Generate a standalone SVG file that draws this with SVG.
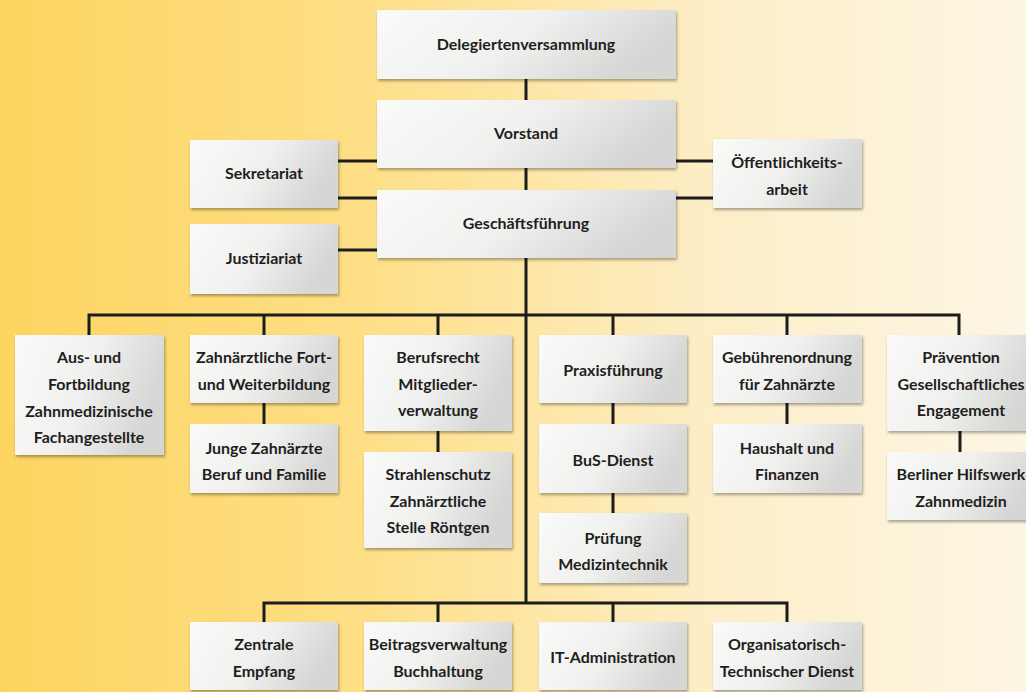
<svg xmlns="http://www.w3.org/2000/svg" width="1026" height="692" viewBox="0 0 1026 692">
<defs>
<linearGradient id="bg" x1="0" y1="0" x2="1" y2="0">
<stop offset="0" stop-color="#fdd460"/>
<stop offset="0.35" stop-color="#fedf86"/>
<stop offset="0.7" stop-color="#fdeec8"/>
<stop offset="1" stop-color="#fdf6e4"/>
</linearGradient>
<linearGradient id="box" x1="0" y1="0" x2="1" y2="0.3">
<stop offset="0" stop-color="#fafaf8"/>
<stop offset="0.55" stop-color="#f0f0ee"/>
<stop offset="1" stop-color="#d6d6d4"/>
</linearGradient>
<filter id="sh" x="-10%" y="-10%" width="125%" height="130%">
<feGaussianBlur in="SourceAlpha" stdDeviation="1.6"/>
<feOffset dx="1" dy="2" result="b"/>
<feComponentTransfer><feFuncA type="linear" slope="0.35"/></feComponentTransfer>
<feMerge><feMergeNode/><feMergeNode in="SourceGraphic"/></feMerge>
</filter>
</defs>
<style>
.b{fill:url(#box);filter:url(#sh)}
.t{font-family:Lato,"Open Sans","Liberation Sans",sans-serif;font-weight:700;font-size:16px;fill:#1e1e1e;text-anchor:middle}
.c{stroke:#1c1c1c;stroke-width:3;fill:none}
</style>
<rect width="1026" height="692" fill="url(#bg)"/>
<g id="connectors" class="c">
<path d="M526 79V100M526 168V190M526 258V603"/>
<path d="M338 161H377M338 198H377M338 250H377M676 161H713M676 198H713"/>
<path d="M89 335V315H959V335M264 315V335M438 315V335M613 315V335M787 315V335"/>
<path d="M264 403V424M438 431V452M613 403V424M613 493V513M787 403V424M960 431V452"/>
<path d="M264 622V603H787V622M438 603V622M613 603V622"/>
</g>
<g id="delegierten"><rect class="b" x="377" y="10" width="299" height="69"/><text class="t" x="526" y="50">Delegiertenversammlung</text></g>
<g id="vorstand"><rect class="b" x="377" y="100" width="299" height="68"/><text class="t" x="526" y="139">Vorstand</text></g>
<g id="geschaeftsfuehrung"><rect class="b" x="377" y="190" width="299" height="68"/><text class="t" x="526" y="229">Geschäftsführung</text></g>
<g id="sekretariat"><rect class="b" x="190" y="140" width="148" height="68"/><text class="t" x="264" y="179">Sekretariat</text></g>
<g id="justiziariat"><rect class="b" x="190" y="224" width="148" height="70"/><text class="t" x="264" y="264">Justiziariat</text></g>
<g id="oeffentlichkeit"><rect class="b" x="713" y="139" width="149" height="69"/><text class="t" x="787" y="168">Öffentlichkeits-</text><text class="t" x="787" y="195">arbeit</text></g>
<g id="ausbildung"><rect class="b" x="15" y="335" width="149" height="120"/><text class="t" x="89" y="363">Aus- und</text><text class="t" x="89" y="390">Fortbildung</text><text class="t" x="89" y="417">Zahnmedizinische</text><text class="t" x="89" y="443">Fachangestellte</text></g>
<g id="fortbildung"><rect class="b" x="190" y="335" width="148" height="68"/><text class="t" x="264" y="363">Zahnärztliche Fort-</text><text class="t" x="264" y="390">und Weiterbildung</text></g>
<g id="junge"><rect class="b" x="190" y="424" width="148" height="69"/><text class="t" x="264" y="454">Junge Zahnärzte</text><text class="t" x="264" y="480">Beruf und Familie</text></g>
<g id="berufsrecht"><rect class="b" x="364" y="335" width="148" height="96"/><text class="t" x="438" y="363">Berufsrecht</text><text class="t" x="438" y="390">Mitglieder-</text><text class="t" x="438" y="416">verwaltung</text></g>
<g id="strahlenschutz"><rect class="b" x="364" y="452" width="148" height="96"/><text class="t" x="438" y="480">Strahlenschutz</text><text class="t" x="438" y="507">Zahnärztliche</text><text class="t" x="438" y="533">Stelle Röntgen</text></g>
<g id="praxisfuehrung"><rect class="b" x="539" y="335" width="148" height="68"/><text class="t" x="613" y="376">Praxisführung</text></g>
<g id="bus"><rect class="b" x="539" y="424" width="148" height="69"/><text class="t" x="613" y="466">BuS-Dienst</text></g>
<g id="pruefung"><rect class="b" x="539" y="513" width="148" height="70"/><text class="t" x="613" y="544">Prüfung</text><text class="t" x="613" y="570">Medizintechnik</text></g>
<g id="gebuehren"><rect class="b" x="713" y="335" width="149" height="68"/><text class="t" x="787" y="363">Gebührenordnung</text><text class="t" x="787" y="390">für Zahnärzte</text></g>
<g id="haushalt"><rect class="b" x="713" y="424" width="149" height="69"/><text class="t" x="787" y="454">Haushalt und</text><text class="t" x="787" y="480">Finanzen</text></g>
<g id="praevention"><rect class="b" x="887" y="335" width="150" height="96"/><text class="t" x="961" y="363">Prävention</text><text class="t" x="961" y="390">Gesellschaftliches</text><text class="t" x="961" y="416">Engagement</text></g>
<g id="hilfswerk"><rect class="b" x="887" y="452" width="150" height="68"/><text class="t" x="961" y="480">Berliner Hilfswerk</text><text class="t" x="961" y="507">Zahnmedizin</text></g>
<g id="zentrale"><rect class="b" x="190" y="622" width="148" height="68"/><text class="t" x="264" y="650">Zentrale</text><text class="t" x="264" y="677">Empfang</text></g>
<g id="beitrag"><rect class="b" x="364" y="622" width="148" height="68"/><text class="t" x="438" y="650">Beitragsverwaltung</text><text class="t" x="438" y="677">Buchhaltung</text></g>
<g id="it"><rect class="b" x="539" y="622" width="148" height="68"/><text class="t" x="613" y="663">IT-Administration</text></g>
<g id="organisatorisch"><rect class="b" x="713" y="622" width="149" height="68"/><text class="t" x="787" y="650">Organisatorisch-</text><text class="t" x="787" y="677">Technischer Dienst</text></g>
</svg>
